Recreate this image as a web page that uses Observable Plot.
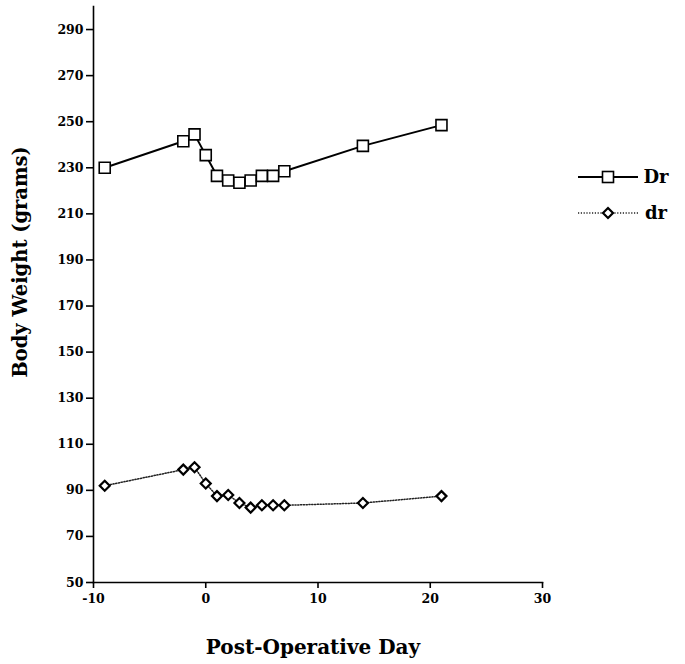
<!DOCTYPE html>
<html><head><meta charset="utf-8">
<script src="https://cdn.jsdelivr.net/npm/d3@7"></script>
<script src="https://cdn.jsdelivr.net/npm/@observablehq/plot@0.6"></script>
<style>body{margin:0;background:#fff;} svg{display:block;}</style>
</head><body><div id="chart"></div>
<script>
const days = [-9, -2, -1, 0, 1, 2, 3, 4, 5, 6, 7, 14, 21];
const drBig = [230, 241.5, 244.5, 235.5, 226.5, 224.5, 223.5, 224.5, 226.5, 226.5, 228.5, 239.5, 248.5];
const drSmall = [92, 99, 100, 93, 87.5, 88, 84.5, 82.5, 83.5, 83.5, 83.5, 84.5, 87.5];
const xTicks = [-10, 0, 10, 20, 30];
const yTicks = [50, 70, 90, 110, 130, 150, 170, 190, 210, 230, 250, 270, 290];
const seriesNames = ["Dr", "dr"];
const xTitle = "Post-Operative Day";
const yTitle = "Body Weight (grams)";

const dataBig = days.map((d, i) => ({day: d, w: drBig[i]}));
const dataSmall = days.map((d, i) => ({day: d, w: drSmall[i]}));
const font = "'DejaVu Serif', 'Liberation Serif', serif";
const dotted = "1.2,1.6";

const plot = Plot.plot({
  width: 685, height: 664,
  marginLeft: 93, marginRight: 143, marginTop: 6, marginBottom: 82,
  style: {fontFamily: font, fontWeight: "bold", fontSize: "12px", background: "#fff", color: "#000"},
  x: {domain: [-10, 30]},
  y: {domain: [50, 300]},
  marks: [
    Plot.frame({anchor: "left", stroke: "#000", strokeWidth: 1.6}),
    Plot.frame({anchor: "bottom", stroke: "#000", strokeWidth: 1.6}),
    Plot.axisY({ticks: yTicks, tickSize: 7, tickPadding: 3, label: null, strokeWidth: 1.6, fontSize: 12.5, tickFormat: d => String(d)}),
    Plot.axisX({ticks: xTicks, tickSize: 6, tickPadding: 6, label: null, strokeWidth: 1.6, fontSize: 12.5, tickFormat: d => String(d)}),
    Plot.line(dataBig, {x: "day", y: "w", stroke: "#000", strokeWidth: 2}),
    Plot.dot(dataBig, {x: "day", y: "w", symbol: "square", r: 6.2, fill: "#fff", stroke: "#000", strokeWidth: 1.6}),
    Plot.line(dataSmall, {x: "day", y: "w", stroke: "#222", strokeWidth: 1.5, strokeDasharray: dotted}),
    Plot.dot(dataSmall, {x: "day", y: "w", symbol: "diamond2", r: 4.5, fill: "#fff", stroke: "#000", strokeWidth: 2.2})
  ]
});
document.getElementById("chart").appendChild(plot);

const svg = d3.select(plot);
svg.append("text").text(xTitle)
  .attr("x", 313).attr("y", 654).attr("text-anchor", "middle")
  .attr("font-family", font).attr("font-weight", "bold").attr("font-size", 20).attr("fill", "#000");
svg.append("text").text(yTitle)
  .attr("transform", "translate(27,262) rotate(-90)").attr("text-anchor", "middle")
  .attr("font-family", font).attr("font-weight", "bold").attr("font-size", 19.5).attr("fill", "#000");

// legend
const lg = svg.append("g");
const rows = [{y: 177, name: seriesNames[0], dash: null, sym: "square"}, {y: 213, name: seriesNames[1], dash: dotted, sym: "diamond"}];
rows.forEach(r => {
  lg.append("line").attr("x1", 578).attr("x2", 638).attr("y1", r.y).attr("y2", r.y)
    .attr("stroke", r.dash ? "#222" : "#000").attr("stroke-width", r.dash ? 1.5 : 2).attr("stroke-dasharray", r.dash);
  if (r.sym === "square") {
    lg.append("rect").attr("x", 602.5).attr("y", r.y - 5.5).attr("width", 11).attr("height", 11)
      .attr("fill", "#fff").attr("stroke", "#000").attr("stroke-width", 1.6);
  } else {
    lg.append("path").attr("d", `M608,${r.y-5}L613,${r.y}L608,${r.y+5}L603,${r.y}Z`)
      .attr("fill", "#fff").attr("stroke", "#000").attr("stroke-width", 2.2);
  }
  lg.append("text").text(r.name).attr("x", 656).attr("y", r.y).attr("dy", "0.35em")
    .attr("font-family", font).attr("font-weight", "bold").attr("font-size", 18).attr("fill", "#000");
});
</script>
</body></html>
